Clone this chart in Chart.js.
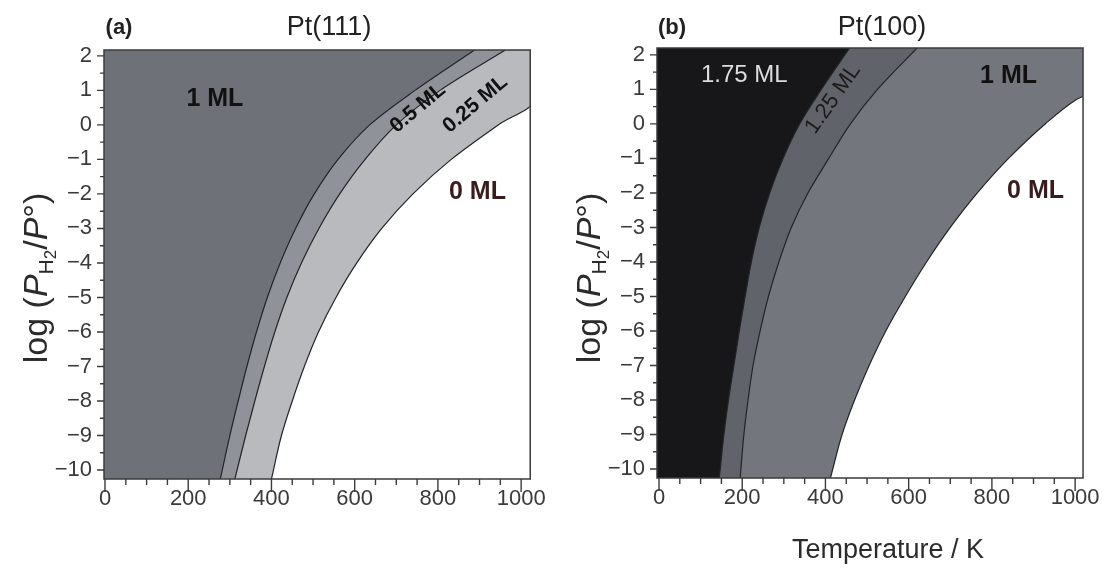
<!DOCTYPE html>
<html>
<head>
<meta charset="utf-8">
<script src="https://cdn.jsdelivr.net/npm/chart.js@4.4.1/dist/chart.umd.min.js"></script>
<style>
  html, body { margin: 0; padding: 0; background: #fff; }
  body { width: 1107px; height: 571px; position: relative; overflow: hidden; }
  .panel { position: absolute; top: 0; height: 571px; }
  #panelA { left: 0; width: 553px; }
  #panelB { left: 553px; width: 554px; }
</style>
</head>
<body>
<div class="panel" id="panelA"><canvas id="chartA"></canvas></div>
<div class="panel" id="panelB"><canvas id="chartB"></canvas></div>
<script>
// Hydrogen coverage phase diagrams, Pt(111) and Pt(100)
const FONT = '"Liberation Sans", Arial, sans-serif';

// Axis ticks
const tempTicks = [0, 200, 400, 600, 800, 1000];
const logPTicks = [-10, -9, -8, -7, -6, -5, -4, -3, -2, -1, 0, 1, 2];

// Pt(111) phase boundaries (log P on y, T in K on x)
const a1LogP = [-10.26, -9, -8, -7, -6, -5, -4, -3, -2, -1, 0, 1, 2.17];
const a1Temp = [277, 300, 320, 341, 364, 390, 421, 458, 503, 560, 636, 745, 888];   // 1 ML | 0.5 ML
const a2LogP = [-10.26, -9, -8, -7, -6, -5, -4, -3, -2, -1, 0, 1, 2.17];
const a2Temp = [312, 338, 360, 383, 408, 437, 472, 514, 564, 625, 700, 805, 962];   // 0.5 ML | 0.25 ML
const a3LogP = [-10.26, -9, -8, -7, -6, -5, -4, -3, -2, -1, 0, 0.7, 2.17];
const a3Temp = [400, 424, 450, 479, 513, 555, 605, 665, 740, 832, 945, 1030, 1030]; // 0.25 ML | 0 ML

// Pt(100) phase boundaries
const b1LogP = [-10.26, -9, -8, -7, -6, -5, -4, -3, -2, -1, 0, 1, 2.2];
const b1Temp = [145, 156, 167, 180, 193, 207, 222, 241, 266, 298, 338, 390, 458];   // 1.75 ML | 1.25 ML
const b2LogP = [-10.26, -9, -8, -7, -6, -5, -4, -3, -2, -1, 0, 1, 2.2];
const b2Temp = [195, 204, 214, 226, 243, 263, 288, 318, 358, 408, 460, 525, 620];   // 1.25 ML | 1 ML
const b3LogP = [-10.26, -9, -8, -7, -6, -5, -4, -3, -2, -1, 0, 0.72, 0.95, 2.2];
const b3Temp = [412, 440, 470, 505, 545, 592, 643, 700, 765, 840, 928, 1005, 1040, 1040]; // 1 ML | 0 ML

function toPoints(temps, logPs) {
  return temps.map((t, i) => ({ x: t, y: logPs[i] }));
}

function boundary(label, temps, logPs, fillColor, order) {
  return {
    label: label,
    data: toPoints(temps, logPs),
    fill: false,
    regionColor: fillColor,
    borderColor: '#222428',
    borderWidth: 1.2,
    pointRadius: 0,
    cubicInterpolationMode: 'monotone',
    order: order,
  };
}

// Fills the phase region left of each boundary line, using the line's own path
const regionFill = {
  id: 'regionFill',
  beforeDatasetDraw(chart, args) {
    const { ctx, chartArea: ca } = chart;
    const line = args.meta.dataset;
    const ds = chart.data.datasets[args.index];
    line.updateControlPoints(ca, args.meta.iScale.axis);
    ctx.save();
    ctx.beginPath();
    ctx.rect(ca.left, ca.top, ca.right - ca.left, ca.bottom - ca.top);
    ctx.clip();
    ctx.beginPath();
    line.path(ctx);
    ctx.lineTo(ca.left, ca.top - 2);
    ctx.lineTo(ca.left, ca.bottom + 2);
    ctx.closePath();
    ctx.fillStyle = ds.regionColor;
    ctx.fill();
    ctx.restore();
  },
};

function minusLabel(v) {
  return v < 0 ? '\u2212' + Math.abs(v) : String(v);
}

function drawYTitle(ctx, cx, cy) {
  const size = 34;
  const parts = [
    { t: 'log (', font: `${size}px ${FONT}`, dy: 0 },
    { t: 'P', font: `italic ${size}px ${FONT}`, dy: 0 },
    { t: 'H', font: `${Math.round(size * 0.62)}px ${FONT}`, dy: 9 },
    { t: '2', font: `${Math.round(size * 0.5)}px ${FONT}`, dy: 13 },
    { t: '/', font: `${size}px ${FONT}`, dy: 0 },
    { t: 'P', font: `italic ${size}px ${FONT}`, dy: 0 },
    { t: '\u00b0', font: `${size}px ${FONT}`, dy: 0 },
    { t: ')', font: `${size}px ${FONT}`, dy: 0 },
  ];
  let total = 0;
  parts.forEach((p) => { ctx.font = p.font; p.w = ctx.measureText(p.t).width; total += p.w; });
  ctx.save();
  ctx.translate(cx, cy);
  ctx.rotate(-Math.PI / 2);
  ctx.textBaseline = 'middle';
  ctx.textAlign = 'left';
  ctx.fillStyle = '#2b2b2b';
  let xPos = -total / 2;
  parts.forEach((p) => {
    ctx.font = p.font;
    ctx.fillText(p.t, xPos, p.dy);
    xPos += p.w;
  });
  ctx.restore();
}

// Frame, tick marks, panel titles and region labels
const panelDecor = {
  id: 'panelDecor',
  afterDatasetsDraw(chart, args, o) {
    const { ctx, chartArea: ca, scales: { x, y } } = chart;
    ctx.save();

    o.labels.forEach((l) => {
      ctx.save();
      ctx.translate(x.getPixelForValue(l.T), y.getPixelForValue(l.logP));
      ctx.rotate(((l.angle || 0) * Math.PI) / 180);
      ctx.font = l.font;
      ctx.fillStyle = l.color;
      ctx.textAlign = 'center';
      ctx.textBaseline = 'middle';
      ctx.fillText(l.text, 0, 0);
      ctx.restore();
    });

    ctx.strokeStyle = '#3b3b3b';
    ctx.lineWidth = 1.5;
    ctx.strokeRect(ca.left, ca.top, ca.right - ca.left, ca.bottom - ca.top);

    ctx.lineWidth = 1.4;
    ctx.beginPath();
    for (let t = 0; t <= 1000; t += 50) {
      const px = x.getPixelForValue(t);
      const len = t % 200 === 0 ? 13 : 6;
      ctx.moveTo(px, ca.bottom);
      ctx.lineTo(px, ca.bottom + len);
    }
    for (let p = -10; p <= 2; p += 0.5) {
      const py = y.getPixelForValue(p);
      const len = Number.isInteger(p) ? 7 : 4;
      ctx.moveTo(ca.left - len, py);
      ctx.lineTo(ca.left, py);
    }
    ctx.stroke();

    const mid = (ca.left + ca.right) / 2;
    ctx.fillStyle = '#222';
    ctx.textBaseline = 'middle';
    ctx.textAlign = 'center';
    ctx.font = `bold 22px ${FONT}`;
    ctx.fillText(o.tag, ca.left + 15, 28);
    ctx.font = `27px ${FONT}`;
    ctx.fillText(o.title, mid + 12, 28);

    drawYTitle(ctx, 38, 278);

    if (o.xTitle) {
      ctx.font = `27px ${FONT}`;
      ctx.fillStyle = '#2b2b2b';
      ctx.fillText(o.xTitle, mid + 18, 551);
    }
    ctx.restore();
  },
};

function makeChart(canvasId, cfg) {
  const tickFont = { family: FONT, size: 22 };
  return new Chart(document.getElementById(canvasId), {
    type: 'line',
    data: { datasets: cfg.datasets },
    options: {
      indexAxis: 'y',
      responsive: true,
      maintainAspectRatio: false,
      animation: false,
      layout: { padding: { top: cfg.top, right: cfg.right, left: 0, bottom: 0 } },
      plugins: {
        legend: { display: false },
        tooltip: { enabled: false },
        panelDecor: { labels: cfg.labels, tag: cfg.tag, title: cfg.title, xTitle: cfg.xTitle },
      },
      scales: {
        x: {
          type: 'linear',
          min: cfg.xMin,
          max: cfg.xMax,
          afterFit: (s) => { s.height = cfg.xAxisHeight; },
          afterBuildTicks: (s) => { s.ticks = tempTicks.map((v) => ({ value: v })); },
          grid: { display: false, drawTicks: false },
          border: { display: false },
          ticks: { font: tickFont, color: '#3a3a3a', padding: 7, maxRotation: 0, autoSkip: false, callback: (v) => String(v) },
        },
        y: {
          type: 'linear',
          min: cfg.yMin,
          max: cfg.yMax,
          afterFit: (s) => { s.width = 104; },
          afterBuildTicks: (s) => { s.ticks = logPTicks.map((v) => ({ value: v })); },
          grid: { display: false, drawTicks: false },
          border: { display: false },
          ticks: { font: tickFont, color: '#3a3a3a', padding: 12, autoSkip: false, callback: minusLabel },
        },
      },
    },
    plugins: [regionFill, panelDecor],
  });
}

makeChart('chartA', {
  tag: '(a)',
  title: 'Pt(111)',
  top: 50,
  right: 18,
  xAxisHeight: 92,
  xMin: -2.4,
  xMax: 1021.8,
  yMin: -10.26,
  yMax: 2.17,
  datasets: [
    boundary('1 ML', a1Temp, a1LogP, '#6e7178', 1),
    boundary('0.5 ML', a2Temp, a2LogP, '#8f9298', 2),
    boundary('0.25 ML', a3Temp, a3LogP, '#b8babe', 3),
  ],
  labels: [
    { text: '1 ML', T: 264, logP: 0.75, font: `bold 25px ${FONT}`, color: '#111' },
    { text: '0.5 ML', T: 752, logP: 0.49, angle: -40, font: `bold 21px ${FONT}`, color: '#111' },
    { text: '0.25 ML', T: 890, logP: 0.6, angle: -40, font: `bold 21px ${FONT}`, color: '#111' },
    { text: '0 ML', T: 895, logP: -1.95, font: `bold 25px ${FONT}`, color: '#3a1c1c' },
  ],
});

makeChart('chartB', {
  tag: '(b)',
  title: 'Pt(100)',
  xTitle: 'Temperature / K',
  top: 48,
  right: 22,
  xAxisHeight: 93,
  xMin: -4.8,
  xMax: 1019,
  yMin: -10.26,
  yMax: 2.2,
  datasets: [
    boundary('1.75 ML', b1Temp, b1LogP, '#17171a', 1),
    boundary('1.25 ML', b2Temp, b2LogP, '#606369', 2),
    boundary('1 ML', b3Temp, b3LogP, '#73767d', 3),
  ],
  labels: [
    { text: '1.75 ML', T: 205, logP: 1.4, font: `24px ${FONT}`, color: '#dcdcdc' },
    { text: '1.25 ML', T: 418, logP: 0.72, angle: -55, font: `22px ${FONT}`, color: '#1a1a1a' },
    { text: '1 ML', T: 840, logP: 1.38, font: `bold 25px ${FONT}`, color: '#111' },
    { text: '0 ML', T: 905, logP: -1.95, font: `bold 25px ${FONT}`, color: '#3a1c1c' },
  ],
});
</script>
</body>
</html>
